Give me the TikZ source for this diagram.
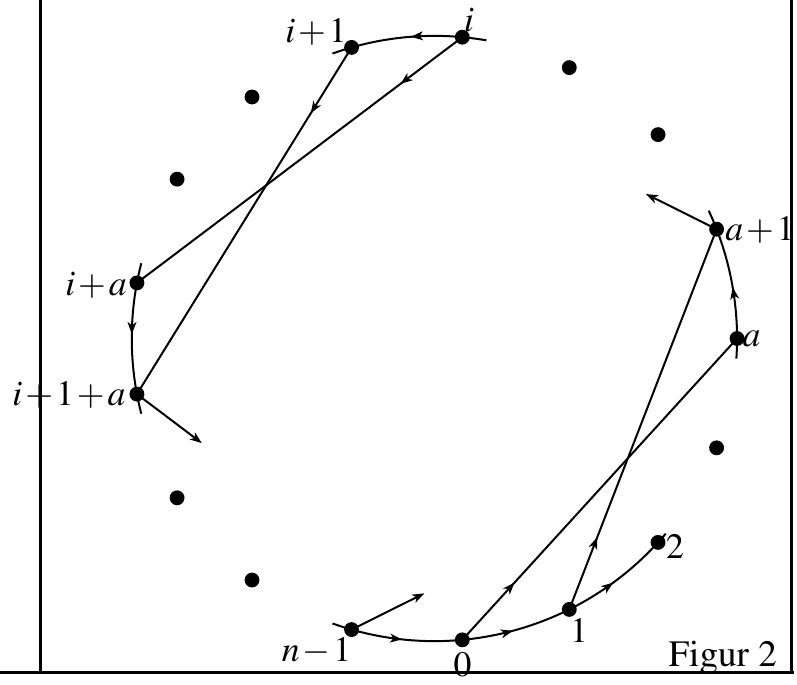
\documentclass[tikz,border=0pt]{standalone}
\usepackage[T1]{fontenc}
\usepackage{mathptmx}
\usetikzlibrary{arrows.meta,decorations.markings,calc}

\colorlet{figLine} {black}
\colorlet{figDot}  {black}
\colorlet{figFrame}{black}

\def\R{3.722cm}
% tight operators in the labels
\newcommand\pls{\mskip1.5mu{+}\mskip1.5mu}
\newcommand\mns{\mskip1.5mu{-}\mskip1.5mu}

\tikzset{
  circdot/.style={circle, fill=figDot, inner sep=0pt, minimum size=5.2pt},
  edgeln/.style={line width=0.7pt, figLine},
  framel/.style={line width=1.05pt, figFrame},
  lbl/.style={anchor=base, inner sep=0pt, font=\fontsize{12.5}{15}\selectfont},
  endtip/.style={-{Stealth[length=4.2pt,width=3.1pt,inset=1.2pt]}},
  midtip/.style={postaction={decorate}, decoration={markings,
      mark=at position #1 with {\arrow{Stealth[length=4.2pt,width=3.1pt,inset=1.2pt]}}}},
}

\begin{document}
\begin{tikzpicture}[x=0.0123cm, y=0.0123cm]
        \useasboundingbox (0,0) rectangle (797,684);
        % frame
        \draw[framel] (0,11.5) -- (794,11.5);
        \draw[framel] (40.5,684) -- (40.5,11.5);
        \draw[framel] (791.5,684) -- (791.5,11.5);
        % the 17 points, p0 = a
        \begin{scope}[shift={(434.4,345.5)}]
          \foreach \k [evaluate=\k as \ang using \k*360/17] in {0,...,16}
            \node[circdot] (p\k) at (\ang:\R) {};
        \end{scope}
        % arcs between neighbours
        \draw[edgeln, midtip=0.46] (p0.center)
              arc[start angle=0, delta angle=21.176, radius=\R];
        \draw[edgeln, midtip=0.46] (p4.center)
              arc[start angle=84.706, delta angle=21.176, radius=\R];
        \draw[edgeln, midtip=0.46] (p8.center)
              arc[start angle=169.412, delta angle=21.176, radius=\R];
        \draw[edgeln, midtip=0.46] (p12.center)
              arc[start angle=254.118, delta angle=21.176, radius=\R];
        \draw[edgeln, midtip=0.46] (p13.center)
              arc[start angle=275.294, delta angle=21.176, radius=\R];
        \draw[edgeln, midtip=0.46] (p14.center)
              arc[start angle=296.471, delta angle=21.176, radius=\R];
        % short ends of the arcs
        \draw[edgeln] (p0.center) arc[start angle=0, delta angle=-3.8, radius=\R];
        \draw[edgeln] (p1.center) arc[start angle=21.176, delta angle=3.8, radius=\R];
        \draw[edgeln] (p4.center) arc[start angle=84.706, delta angle=-4.6, radius=\R];
        \draw[edgeln] (p5.center) arc[start angle=105.882, delta angle=3.8, radius=\R];
        \draw[edgeln] (p8.center) arc[start angle=169.412, delta angle=-3.8, radius=\R];
        \draw[edgeln] (p9.center) arc[start angle=190.588, delta angle=3.8, radius=\R];
        \draw[edgeln] (p12.center) arc[start angle=254.118, delta angle=-3.8, radius=\R];
        \draw[edgeln] (p15.center) arc[start angle=317.647, delta angle=2.2, radius=\R];
        % chords
        \draw[edgeln, midtip=0.19] (p4.center) -- (p8.center);
        \draw[edgeln, midtip=0.19] (p5.center) -- (p9.center);
        \draw[edgeln, midtip=0.19] (p13.center) -- (p0.center);
        \draw[edgeln, midtip=0.19] (p14.center) -- (p1.center);
        % short arrows
        \coordinate (q9)  at ($(p9.center)!1cm!(p13.center)$);
        \coordinate (q12) at ($(p12.center)!1cm!(p16.center)$);
        \coordinate (q1)  at ($(p1.center)!0.97cm!(p5.center)$);
        \draw[edgeln, endtip] (p9.center) -- (q9);
        \draw[edgeln, endtip] (p12.center) -- (q12);
        \draw[edgeln, endtip] (p1.center) -- (q1);
        % labels
        \node[lbl] (l4)  at (469,652)    {$i$};
        \node[lbl] (l5)  at (316,641)    {$i\pls1$};
        \node[lbl] (l8)  at (96,389)     {$i\pls a$};
        \node[lbl] (l9)  at (69,278.3)   {$i\pls1\pls a$};
        \node[lbl] (l12) at (316.5,22.3) {$n\mns1$};
        \node[lbl] (l13) at (462.5,8)    {$0$};
        \node[lbl] (l14) at (579,42)     {$1$};
        \node[lbl] (l15) at (675,126)    {$2$};
        \node[lbl] (l0)  at (751.5,337.3){$a$};
        \node[lbl] (l1)  at (760,443.3)  {$a\pls1$};
        \node[lbl, anchor=base west, font=\fontsize{13}{15}\selectfont]
              (fig) at (668,18) {Figur 2};
      \end{tikzpicture}
\end{document}
